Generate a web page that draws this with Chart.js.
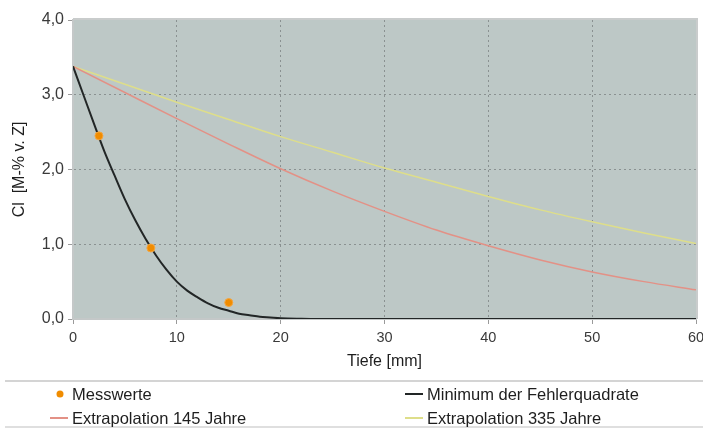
<!DOCTYPE html>
<html>
<head>
<meta charset="utf-8">
<script src="https://cdn.jsdelivr.net/npm/chart.js@4.4.1/dist/chart.umd.min.js"></script>
<style>
html,body{margin:0;padding:0;background:#fff;}
#wrap{position:relative;width:703px;height:428px;}
</style>
</head>
<body>
<div id="wrap"><canvas id="c" width="703" height="428"></canvas></div>
<script>
// Measured points
const messX = [2.5, 7.5, 15];
const messY = [2.45, 0.95, 0.22];

// Least-squares fit curve
const fitX = [0,1,2,3,4,5,6,7,8,9,10,11,12,13,14,15,16,17,18,19,20,22,25,30,40,50,60];
const fitY = [3.38,3.00,2.62,2.25,1.92,1.60,1.32,1.07,0.85,0.66,0.50,0.38,0.29,0.21,0.15,0.11,0.07,0.05,0.03,0.02,0.01,0.004,0,0,0,0,0];

// Extrapolation 145 years
const ex145X = [0,5,10,15,20,25,30,35,40,45,50,55,60];
const ex145Y = [3.38,3.03,2.68,2.34,2.01,1.71,1.44,1.19,0.98,0.79,0.63,0.50,0.39];

// Extrapolation 335 years
const ex335X = [0,5,10,15,20,25,30,35,40,45,50,55,60];
const ex335Y = [3.38,3.14,2.90,2.67,2.44,2.23,2.02,1.83,1.64,1.46,1.30,1.15,1.01];

const yTicks = [0,1,2,3,4];
const xTicks = [0,10,20,30,40,50,60];

const labels = ["Messwerte","Minimum der Fehlerquadrate","Extrapolation 145 Jahre","Extrapolation 335 Jahre"];

const pts = (xs, ys) => xs.map((x,i)=>({x:x,y:ys[i]}));

const FONT = "'Liberation Sans', Arial, sans-serif";

const bgPlugin = {
  id:'bg',
  beforeDraw(chart){
    const {ctx, chartArea:a} = chart;
    ctx.save();
    ctx.fillStyle = '#bdc8c6';
    ctx.fillRect(a.left, a.top, a.right-a.left, a.bottom-a.top);
    ctx.restore();
  },
  afterDraw(chart){
    const {ctx, chartArea:a} = chart;
    ctx.save();
    // frame
    ctx.strokeStyle = '#c9cccc';
    ctx.lineWidth = 2;
    ctx.beginPath();
    ctx.moveTo(a.left, a.top-1); ctx.lineTo(a.right+1, a.top-1); ctx.lineTo(a.right+1, a.bottom);
    ctx.stroke();
    // separator lines
    ctx.strokeStyle = '#d4d4d4';
    ctx.lineWidth = 2;
    ctx.beginPath(); ctx.moveTo(5, 381); ctx.lineTo(703, 381); ctx.stroke();
    ctx.lineWidth = 1.5;
    ctx.beginPath(); ctx.moveTo(5, 427); ctx.lineTo(703, 427); ctx.stroke();
    // legend
    const ds = chart.data.datasets;
    const pos = [[60,394,72],[414,394,427],[59,418,72],[414,418,427]];
    ctx.font = '16.5px ' + FONT;
    ctx.textBaseline = 'middle';
    ds.forEach((d,i)=>{
      const [mx,my,tx] = pos[i];
      if (d.showLine === false) {
        ctx.beginPath(); ctx.fillStyle = d.backgroundColor;
        ctx.arc(mx, my, 3.5, 0, Math.PI*2); ctx.fill();
      } else {
        ctx.strokeStyle = d.borderColor; ctx.lineWidth = 2;
        ctx.beginPath(); ctx.moveTo(mx-9, my); ctx.lineTo(mx+9, my); ctx.stroke();
      }
      ctx.fillStyle = '#1e1e1e';
      ctx.fillText(d.label, tx, my+1);
    });
    ctx.restore();
  }
};

new Chart(document.getElementById('c'), {
  type:'scatter',
  data:{
    datasets:[
      {label:labels[0], data:pts(messX,messY), showLine:false, backgroundColor:'#f08c00', borderColor:'#f5a640', borderWidth:1, pointRadius:4, order:0},
      {label:labels[1], data:pts(fitX,fitY), showLine:true, borderColor:'#222626', borderWidth:2, pointRadius:0, cubicInterpolationMode:'monotone', order:1},
      {label:labels[2], data:pts(ex145X,ex145Y), showLine:true, borderColor:'#e39186', borderWidth:1.5, pointRadius:0, cubicInterpolationMode:'monotone', order:2},
      {label:labels[3], data:pts(ex335X,ex335Y), showLine:true, borderColor:'#dede8a', borderWidth:1.5, pointRadius:0, cubicInterpolationMode:'monotone', order:3}
    ]
  },
  options:{
    responsive:false,
    animation:false,
    layout:{padding:{top:20,right:7,bottom:57,left:0}},
    plugins:{legend:{display:false}, tooltip:{enabled:false}},
    scales:{
      x:{
        type:'linear', min:0, max:60,
        afterBuildTicks(s){ s.ticks = xTicks.map(v=>({value:v})); },
        afterFit(s){ s.height = 52; s.paddingRight = 0; s.paddingLeft = 0; },
        grid:{
          color:(c)=> (c.tick && (c.tick.value===0||c.tick.value===60)) ? 'rgba(0,0,0,0)' : '#8a9191',
          lineWidth:1, drawTicks:true, tickLength:5, tickColor:'#9a9a9a', tickBorderDash:[]
        },
        border:{display:true, color:'#c4c8c8', width:2, dash:[2,3]},
        ticks:{color:'#3a3a3a', font:{family:FONT,size:14.5}, padding:5, callback:(v)=>String(v)},
        title:{display:true, text:'Tiefe [mm]', color:'#1e1e1e', font:{family:FONT,size:16}, padding:{top:0,bottom:0}}
      },
      y:{
        type:'linear', min:0, max:4,
        afterBuildTicks(s){ s.ticks = yTicks.map(v=>({value:v})); },
        afterFit(s){ s.width = 73; s.paddingTop = 0; s.paddingBottom = 0; },
        grid:{
          color:(c)=> (c.tick && (c.tick.value===0||c.tick.value===4)) ? 'rgba(0,0,0,0)' : '#8a9191',
          lineWidth:1, drawTicks:true, tickLength:5, tickColor:'#9a9a9a', tickBorderDash:[]
        },
        border:{display:true, color:'#c4c8c8', width:2, dash:[2,3]},
        ticks:{color:'#3a3a3a', font:{family:FONT,size:16}, padding:4, callback:(v)=>v.toFixed(1).replace('.',',')},
        title:{display:true, text:'Cl  [M-% v. Z]', color:'#1e1e1e', font:{family:FONT,size:16}, padding:{top:10,bottom:0}}
      }
    }
  },
  plugins:[bgPlugin]
});
</script>
</body>
</html>
